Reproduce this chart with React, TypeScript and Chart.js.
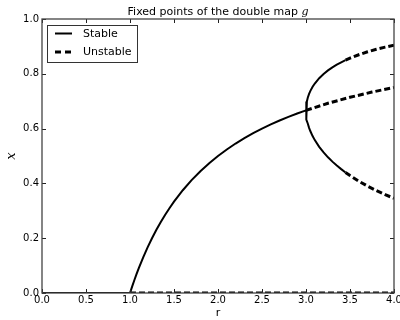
import React, { useEffect, useRef } from "react";
import { Chart, registerables } from "chart.js";

Chart.register(...registerables);

// x = 0 fixed point
const zeroR = [0, 1, 4];
const zeroX = [0, 0, 0];
const zeroStableEnd = 1;

// x = 1 - 1/r branch
const branchR = [1.0, 1.025, 1.05, 1.075, 1.1, 1.15, 1.2, 1.25, 1.3, 1.35, 1.4, 1.45, 1.5, 1.6, 1.7, 1.8, 1.9, 2.0, 2.1, 2.2, 2.3, 2.4, 2.5, 2.6, 2.7, 2.8, 2.9, 3.0, 3.25, 3.5, 3.75, 4.0];
const branchX = [0, 0.0244, 0.0476, 0.0698, 0.0909, 0.1304, 0.1667, 0.2, 0.2308, 0.2593, 0.2857, 0.3103, 0.3333, 0.375, 0.4118, 0.4444, 0.4737, 0.5, 0.5238, 0.5455, 0.5652, 0.5833, 0.6, 0.6154, 0.6296, 0.6429, 0.6552, 0.6667, 0.6923, 0.7143, 0.7333, 0.75];
const branchStableEnd = 3.0;

// period-2 cycle branches
const cycleR = [3.0, 3.001, 3.003, 3.005, 3.01, 3.02, 3.035, 3.05, 3.075, 3.1, 3.15, 3.2, 3.25, 3.3, 3.35, 3.4, 3.449, 3.5, 3.6, 3.7, 3.8, 3.9, 4.0];
const cycleUpper = [0.6667, 0.6772, 0.6847, 0.6899, 0.6993, 0.7125, 0.7267, 0.7377, 0.7525, 0.7646, 0.784, 0.7995, 0.8124, 0.8236, 0.8334, 0.8421, 0.8499, 0.8571, 0.8696, 0.8803, 0.8894, 0.8974, 0.9045];
const cycleLower = [0.6667, 0.6561, 0.6483, 0.6428, 0.6329, 0.6187, 0.6028, 0.5902, 0.5727, 0.558, 0.5335, 0.513, 0.4952, 0.4794, 0.465, 0.452, 0.44, 0.4286, 0.4081, 0.39, 0.3737, 0.359, 0.3455];
const cycleStableEnd = 3.449;

const xTicks = [0, 0.5, 1, 1.5, 2, 2.5, 3, 3.5, 4];
const yTicks = [0, 0.2, 0.4, 0.6, 0.8, 1.0];

const seriesLabels = ["Stable", "Unstable"];
const titleText = "Fixed points of the double map ";
const titleMath = "g";

type P = { x: number; y: number | null };
const gap: P = { x: NaN, y: null };

function pts(rs: number[], xs: number[], f: (r: number) => boolean): P[] {
  const out: P[] = [];
  rs.forEach((r, i) => {
    if (f(r)) out.push({ x: r, y: xs[i] });
  });
  return out;
}

const FONT = "'DejaVu Sans', sans-serif";

const decorPlugin = {
  id: "decor",
  afterDraw(chart: any) {
    const { ctx, chartArea: a, scales } = chart;
    const xs = scales.x;
    const ys = scales.y;
    ctx.save();
    ctx.strokeStyle = "#222";
    ctx.lineWidth = 1;
    // inside ticks
    ctx.beginPath();
    xTicks.forEach((v) => {
      const px = Math.round(xs.getPixelForValue(v)) + 0.5;
      ctx.moveTo(px, a.bottom);
      ctx.lineTo(px, a.bottom - 4);
      ctx.moveTo(px, a.top);
      ctx.lineTo(px, a.top + 4);
    });
    yTicks.forEach((v) => {
      const py = Math.round(ys.getPixelForValue(v)) + 0.5;
      ctx.moveTo(a.left, py);
      ctx.lineTo(a.left + 4, py);
      ctx.moveTo(a.right, py);
      ctx.lineTo(a.right - 4, py);
    });
    ctx.stroke();
    // frame
    ctx.strokeStyle = "#444";
    ctx.lineWidth = 1.3;
    ctx.strokeRect(a.left, a.top, a.right - a.left, a.bottom - a.top);

    ctx.fillStyle = "#000";
    // title
    ctx.textBaseline = "alphabetic";
    ctx.font = `11px ${FONT}`;
    const w1 = ctx.measureText(titleText).width;
    ctx.font = `italic 11px 'DejaVu Serif', serif`;
    const w2 = ctx.measureText(titleMath).width;
    const cx = (a.left + a.right) / 2;
    const tx = cx - (w1 + w2) / 2;
    ctx.textAlign = "left";
    ctx.font = `11px ${FONT}`;
    ctx.fillText(titleText, tx, 15);
    ctx.font = `italic 11px 'DejaVu Serif', serif`;
    ctx.fillText(titleMath, tx + w1, 15);

    // axis labels
    ctx.textAlign = "center";
    ctx.textBaseline = "middle";
    ctx.font = `11px ${FONT}`;
    ctx.fillText("r", cx, 313);
    ctx.save();
    ctx.translate(12, (a.top + a.bottom) / 2);
    ctx.rotate(-Math.PI / 2);
    ctx.font = `italic 13px 'DejaVu Serif', serif`;
    ctx.fillText("x", 0, 0);
    ctx.restore();

    // legend
    const lx = a.left + 5;
    const ly = a.top + 6;
    ctx.fillStyle = "#fff";
    ctx.fillRect(lx, ly, 90, 37);
    ctx.strokeStyle = "#333";
    ctx.lineWidth = 1;
    ctx.strokeRect(lx + 0.5, ly + 0.5, 90, 37);
    ctx.strokeStyle = "#000";
    ctx.lineWidth = 2;
    ctx.beginPath();
    ctx.moveTo(lx + 8, ly + 8.5);
    ctx.lineTo(lx + 25, ly + 8.5);
    ctx.stroke();
    ctx.lineWidth = 3;
    ctx.setLineDash([6, 4]);
    ctx.beginPath();
    ctx.moveTo(lx + 8, ly + 27);
    ctx.lineTo(lx + 25, ly + 27);
    ctx.stroke();
    ctx.setLineDash([]);
    ctx.fillStyle = "#000";
    ctx.textAlign = "left";
    ctx.font = `11px ${FONT}`;
    ctx.fillText(seriesLabels[0], lx + 36, ly + 9);
    ctx.fillText(seriesLabels[1], lx + 36, ly + 27);
    ctx.restore();
  },
};

export default function App() {
  const ref = useRef<HTMLCanvasElement | null>(null);
  useEffect(() => {
    if (!ref.current) return;
    const stable: P[] = [
      ...pts(zeroR, zeroX, (r) => r <= zeroStableEnd),
      gap,
      ...pts(branchR, branchX, (r) => r <= branchStableEnd),
      gap,
      ...pts(cycleR, cycleUpper, (r) => r <= cycleStableEnd).reverse(),
      ...pts(cycleR, cycleLower, (r) => r <= cycleStableEnd && r > cycleR[0]),
    ];
    const unstable: P[] = [
      ...pts(zeroR, zeroX, (r) => r >= zeroStableEnd),
      gap,
      ...pts(branchR, branchX, (r) => r >= branchStableEnd),
      gap,
      ...pts(cycleR, cycleUpper, (r) => r >= cycleStableEnd),
      gap,
      ...pts(cycleR, cycleLower, (r) => r >= cycleStableEnd),
    ];
    const chart = new Chart(ref.current, {
      type: "line",
      data: {
        datasets: [
          {
            label: seriesLabels[0],
            data: stable as any,
            borderColor: "#000",
            borderWidth: 2,
            pointRadius: 0,
            tension: 0,
            spanGaps: false,
          },
          {
            label: seriesLabels[1],
            data: unstable as any,
            borderColor: "#000",
            borderWidth: 3,
            borderDash: [6, 3],
            pointRadius: 0,
            tension: 0,
            spanGaps: false,
          },
        ],
      },
      options: {
        animation: false,
        responsive: true,
        maintainAspectRatio: false,
        parsing: false as any,
        layout: { padding: { top: 19, right: 6, left: 0, bottom: 0 } },
        plugins: { legend: { display: false }, tooltip: { enabled: false }, title: { display: false } },
        scales: {
          x: {
            type: "linear",
            min: 0,
            max: 4,
            grid: { display: false, drawTicks: false },
            border: { display: false },
            afterFit: (s: any) => {
              s.height = 27;
              s.paddingRight = 0;
              s.paddingLeft = 0;
            },
            afterBuildTicks: (s: any) => {
              s.ticks = xTicks.map((v) => ({ value: v }));
            },
            ticks: {
              color: "#000",
              padding: 1,
              maxRotation: 0,
              autoSkip: false,
              font: { family: FONT, size: 10 },
              callback: (v: any) => Number(v).toFixed(1),
            },
          },
          y: {
            type: "linear",
            min: 0,
            max: 1,
            grid: { display: false, drawTicks: false },
            border: { display: false },
            afterFit: (s: any) => {
              s.width = 42;
              s.paddingTop = 0;
              s.paddingBottom = 0;
            },
            afterBuildTicks: (s: any) => {
              s.ticks = yTicks.map((v) => ({ value: v }));
            },
            ticks: {
              color: "#000",
              padding: 3,
              autoSkip: false,
              font: { family: FONT, size: 10 },
              callback: (v: any) => Number(v).toFixed(1),
            },
          },
        },
      },
      plugins: [decorPlugin],
    });
    return () => chart.destroy();
  }, []);
  return (
    <div style={{ position: "fixed", left: 0, top: 0, width: 400, height: 320, background: "#fff" }}>
      <canvas ref={ref} />
    </div>
  );
}
